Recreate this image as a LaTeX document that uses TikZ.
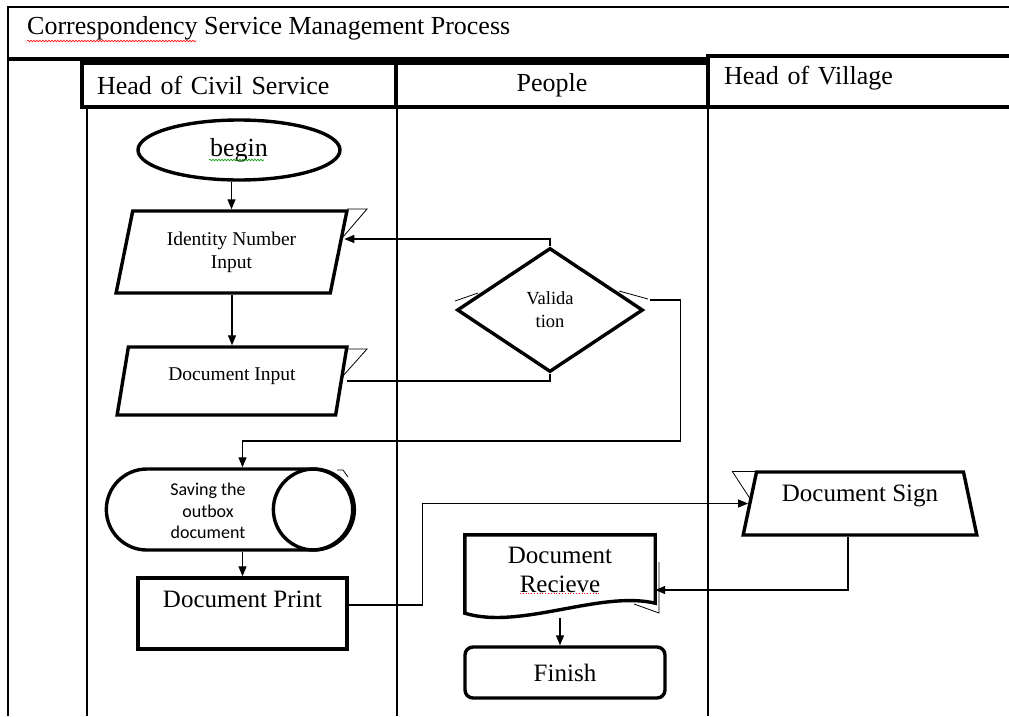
\documentclass[tikz,border=0pt]{standalone}
\usepackage{fontspec}
\setmainfont{Liberation Serif}
\newfontfamily\calibri{Carlito}
\usepackage{tikz}
\usetikzlibrary{arrows.meta,shapes,decorations.pathmorphing}

\tikzset{
  rule/.style={line width=1.2pt},
  boldrule/.style={line width=3.6pt},
  head/.style={draw,boldrule,inner sep=0pt,font=\fontsize{26}{30}\selectfont},
  shapebox/.style={draw,line width=3.4pt,align=center},
  inbox/.style={shapebox,trapezium,trapezium left angle=75,trapezium right angle=105,
    trapezium stretches=true,inner sep=0pt,font=\fontsize{19.5}{23}\selectfont},
  flow/.style={line width=1.2pt},
  ghost/.style={line width=0.8pt},
}

\begin{document}
\begin{tikzpicture}[x=1pt,y=-1pt,>={Triangle[length=10pt,width=8pt]}]
		\useasboundingbox (0,0) rectangle (1009,716);
		% table frame
		\draw[rule] (8,716) -- (8,7) -- (1012,7);
		\draw[boldrule] (8,59) -- (708,59);
		\draw[boldrule] (708,56) -- (1012,56);
		\node[anchor=west,inner sep=0pt,font=\fontsize{26}{30}\selectfont] (title) at (27,28) {Correspondency Service Management Process};
		%
		\node[head,text width=284pt,inner xsep=15pt,minimum height=44pt,align=left] (hcs) at (239,85) {Head of Civil Service};
		\node[head,minimum width=312pt,minimum height=44pt] (ppl) at (552,85) {People};
		\node[head,text width=272pt,inner xsep=16pt,minimum height=51pt,align=left,text depth=12pt] (hov) at (860,81.5) {Head of Village};
		% lanes
		\draw[rule] (87,107) -- (87,716);
		\draw[rule] (397,107) -- (397,716);
		\draw[rule] (708,107) -- (708,716);
		%
		\node[shapebox,ellipse,minimum width=202pt,minimum height=60pt,font=\fontsize{26}{30}\selectfont] (begin) at (239,150) {begin};
		\node[inbox,minimum width=231pt,minimum height=82pt] (idn) at (231.5,252) {Identity Number\\Input};
		\node[inbox,minimum width=230pt,minimum height=68pt,text depth=13pt] (docin) at (232,381) {Document Input};
		\node[shapebox,diamond,aspect=1.5,inner sep=0pt,minimum width=186pt,minimum height=124pt,font=\fontsize{18.5}{23}\selectfont] (dia) at (550,310) {Valida\\tion};
		\node[shapebox,rounded rectangle,minimum width=253pt,minimum height=81pt] (save) at (229.5,509.5) {};
		\node[align=center,inner sep=0pt,font=\calibri\fontsize{18}{21.5}\selectfont] (savetxt) at (208,511) {Saving the\\outbox\\document};
		\draw[line width=3.4pt] ([xshift=-40.5pt]save.east) circle (40.5pt);
		\node[shapebox,minimum width=209pt,minimum height=71pt,text depth=29pt,font=\fontsize{25}{29}\selectfont] (print) at (242.5,613.5) {Document Print};
		\node[shapebox,trapezium,trapezium left angle=75,trapezium right angle=75,trapezium stretches=true,
			inner sep=0pt,minimum width=234pt,minimum height=63pt,text depth=21pt,font=\fontsize{25}{29}\selectfont] (sign) at (860,503.5) {Document Sign};
		\node[align=center,minimum width=190pt,minimum height=70pt,inner sep=0pt,font=\fontsize{25}{29}\selectfont] (recv) at (560,570) {Document\\Recieve};
		\draw[line width=3.4pt] ([yshift=-8pt]recv.south west) -- (recv.north west) -- (recv.north east) -- ([yshift=2pt]recv.south east)
			.. controls +(-55,-13) and +(55,17) .. ([yshift=-8pt]recv.south west) -- cycle;
		\node[shapebox,rounded corners=8pt,minimum width=200pt,minimum height=51pt,font=\fontsize{25}{29}\selectfont] (finish) at (565,672.5) {Finish};
		%
		\path[->,flow]
		% straight arrows
		(begin.south -| idn.north) edge (idn.north)
		(docin.north |- idn.south) edge (docin.north)
		(print.north |- save.south) edge (print.north)
		([yshift=-13pt]recv.south) edge (recv.south |- finish.north);
		% bent connectors
		\draw[->,flow] (dia.north) |- ([xshift=4pt,yshift=13pt]idn.east);
		\draw[flow] (dia.south) |- ([xshift=4pt]docin.east);
		\draw[->,flow] ([xshift=5pt,yshift=10pt]dia.east) -- ++(31,0) -- ++(0,141) -| (print.north |- save.north);
		\draw[->,flow] ([yshift=8.5pt]print.east) -- ++(74,0) |- (sign.west);
		\draw[->,flow] ([xshift=-12pt]sign.south) |- ([yshift=-20pt]recv.east);
		% shadow marks
		\draw[ghost] (347,209) -- (367,209) -- (343,237);
		\draw[ghost] (345,349) -- (367,349) -- (342,377);
		\draw[ghost] (455,301) -- (478,293);
		\draw[ghost] (619,291) -- (648,299);
		\draw[ghost] (337,470) -- (343,470) -- (348,477);
		\draw[ghost] (732,471) -- (760,471);
		\draw[ghost] (732,471) -- (751,500);
		\draw[ghost] (659,562) -- (659,613) -- (634,604);
		% spelling marks
		\draw[red,line width=0.6pt,decorate,decoration={snake,amplitude=0.8pt,segment length=3pt}] (27,41) -- (196,41);
		\draw[green!60!black,line width=0.6pt,decorate,decoration={snake,amplitude=0.8pt,segment length=3pt}] (209,160) -- (264,160);
		\draw[red,line width=0.8pt,dotted] (520,593) -- (600,593);
\end{tikzpicture}
\end{document}
